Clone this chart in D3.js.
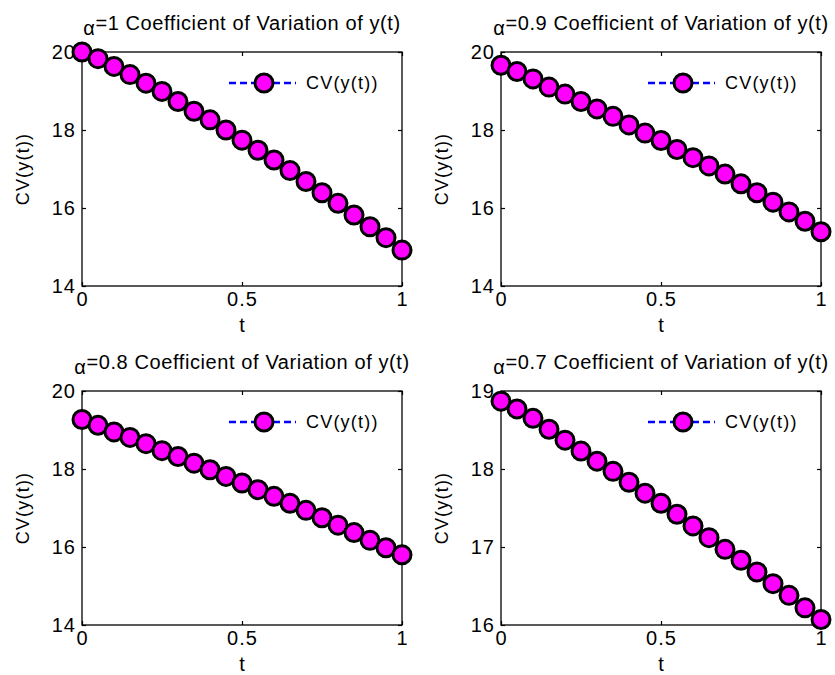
<!DOCTYPE html>
<html>
<head>
<meta charset="utf-8">
<script src="https://cdn.jsdelivr.net/npm/d3@7"></script>
<style>
  body { margin: 0; background: #fff; }
  text { font-family: "Liberation Sans", Arial, Helvetica, sans-serif; fill: #000; }
</style>
</head>
<body>
<svg id="chart" width="835" height="675"></svg>
<script>
// time points t = 0:0.05:1
const tValues = [0, 0.05, 0.1, 0.15, 0.2, 0.25, 0.3, 0.35, 0.4, 0.45, 0.5,
                 0.55, 0.6, 0.65, 0.7, 0.75, 0.8, 0.85, 0.9, 0.95, 1];

// coefficient of variation
const cvAlpha1 = [20.0, 19.83, 19.63, 19.42, 19.2, 18.99, 18.73, 18.48, 18.26, 18.0, 17.74,
                  17.48, 17.23, 16.96, 16.68, 16.39, 16.12, 15.82, 15.52, 15.24, 14.92];
const cvAlpha09 = [19.66, 19.5, 19.31, 19.1, 18.92, 18.73, 18.54, 18.35, 18.13, 17.92, 17.73,
                   17.5, 17.29, 17.08, 16.87, 16.62, 16.39, 16.15, 15.9, 15.66, 15.39];
const cvAlpha08 = [19.27, 19.12, 18.95, 18.81, 18.65, 18.47, 18.32, 18.15, 17.98, 17.81, 17.64,
                   17.47, 17.3, 17.12, 16.94, 16.75, 16.56, 16.37, 16.17, 15.98, 15.8];
const cvAlpha07 = [18.87, 18.77, 18.65, 18.51, 18.37, 18.23, 18.1, 17.97, 17.83, 17.69, 17.56,
                   17.42, 17.27, 17.12, 16.97, 16.83, 16.68, 16.53, 16.38, 16.22, 16.07];

const alphaLabels = ['1', '0.9', '0.8', '0.7'];
const xTicks = [0, 0.5, 1];
const yTicksA = [14, 16, 18, 20];
const yTicksB = [16, 17, 18, 19];
const yDomains = [[14, 20], [14, 20], [14, 20], [16, 19]];

const panels = [
  {alpha: alphaLabels[0], values: cvAlpha1, yDomain: yDomains[0], yTicks: yTicksA, left: 82, top: 52},
  {alpha: alphaLabels[1], values: cvAlpha09, yDomain: yDomains[1], yTicks: yTicksA, left: 501, top: 52},
  {alpha: alphaLabels[2], values: cvAlpha08, yDomain: yDomains[2], yTicks: yTicksA, left: 82, top: 391},
  {alpha: alphaLabels[3], values: cvAlpha07, yDomain: yDomains[3], yTicks: yTicksB, left: 501, top: 391},
];

const plotW = 320;
const plotH = 234;
const tickLen = 4;
const markerR = 9;

const svg = d3.select('#chart');
svg.append('rect').attr('width', 835).attr('height', 675).attr('fill', '#fff');

panels.forEach((p) => {
  const g = svg.append('g').attr('transform', `translate(${p.left},${p.top})`);
  const x = d3.scaleLinear().domain([0, 1]).range([0, plotW]);
  const y = d3.scaleLinear().domain(p.yDomain).range([plotH, 0]);

  // box
  g.append('rect')
      .attr('width', plotW).attr('height', plotH)
      .attr('fill', 'none').attr('stroke', '#000').attr('stroke-width', 1.3);

  // axes with inward ticks on all four sides
  const axisStyle = (sel) => {
    sel.select('.domain').remove();
    sel.selectAll('line').attr('stroke', '#000').attr('stroke-width', 1.2);
  };
  g.append('g').attr('transform', `translate(0,${plotH})`)
      .call(d3.axisBottom(x).tickValues(xTicks).tickSize(-tickLen).tickFormat(d3.format('')).tickPadding(6))
      .call(axisStyle);
  g.append('g')
      .call(d3.axisTop(x).tickValues(xTicks).tickSize(-tickLen).tickFormat(''))
      .call(axisStyle);
  g.append('g')
      .call(d3.axisLeft(y).tickValues(p.yTicks).tickSize(-tickLen).tickFormat(d3.format('')).tickPadding(6))
      .call(axisStyle);
  g.append('g').attr('transform', `translate(${plotW},0)`)
      .call(d3.axisRight(y).tickValues(p.yTicks).tickSize(-tickLen).tickFormat(''))
      .call(axisStyle);

  g.selectAll('.tick text')
      .attr('font-size', 20).attr('letter-spacing', 1)
      .attr('font-family', '"Liberation Sans", Arial, sans-serif').attr('fill', '#000');

  // axis labels
  g.append('text')
      .attr('x', plotW / 2).attr('y', plotH + 46)
      .attr('text-anchor', 'middle').attr('font-size', 20)
      .text('t');
  g.append('text')
      .attr('transform', `translate(-53,${plotH / 2}) rotate(-90)`)
      .attr('text-anchor', 'middle').attr('font-size', 18).attr('letter-spacing', 1.2)
      .text('CV(y(t))');

  // title with greek alpha dropped a little
  const title = g.append('text')
      .attr('x', plotW / 2).attr('y', -22)
      .attr('text-anchor', 'middle').attr('font-size', 20).attr('letter-spacing', 0.6);
  title.append('tspan').attr('dy', 5).text('α');
  title.append('tspan').attr('dy', -5).text(`=${p.alpha} Coefficient of Variation of y(t)`);

  const pts = tValues.map((t, i) => [t, p.values[i]]);

  // dashed blue series line (mostly hidden under markers)
  g.append('path')
      .datum(pts)
      .attr('fill', 'none').attr('stroke', '#0000ff').attr('stroke-width', 2.5)
      .attr('stroke-dasharray', '7,4')
      .attr('d', d3.line().x((d) => x(d[0])).y((d) => y(d[1])));

  g.selectAll('circle.pt')
      .data(pts)
      .join('circle')
      .attr('class', 'pt')
      .attr('cx', (d) => x(d[0])).attr('cy', (d) => y(d[1]))
      .attr('r', markerR)
      .attr('fill', '#ff00ff').attr('stroke', '#000').attr('stroke-width', 3);

  // legend (no box)
  const lg = g.append('g').attr('transform', `translate(${plotW - 173},31)`);
  lg.append('line')
      .attr('x1', 0).attr('x2', 67).attr('y1', 0).attr('y2', 0)
      .attr('stroke', '#0000ff').attr('stroke-width', 2.5).attr('stroke-dasharray', '7,4');
  lg.append('circle')
      .attr('cx', 35).attr('cy', 0).attr('r', markerR)
      .attr('fill', '#ff00ff').attr('stroke', '#000').attr('stroke-width', 3);
  lg.append('text')
      .attr('x', 77).attr('y', 6)
      .attr('font-size', 18).attr('letter-spacing', 1.2)
      .text('CV(y(t))');
});
</script>
</body>
</html>
